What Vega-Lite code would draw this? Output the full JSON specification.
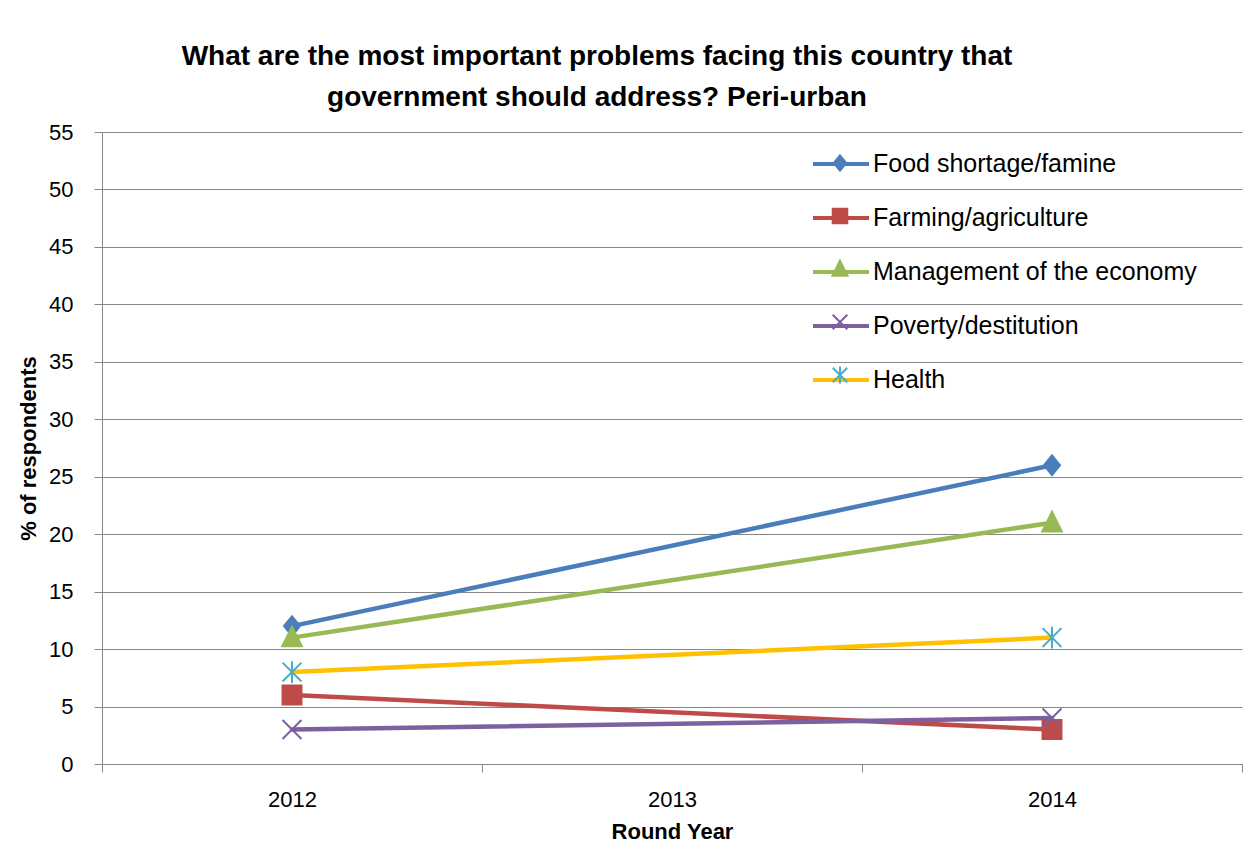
{
  "$schema": "https://vega.github.io/schema/vega-lite/v6.json",
  "width": 1140,
  "height": 632,
  "autosize": {"type": "none"},
  "padding": {"left": 102, "top": 132, "right": 11, "bottom": 80},
  "background": "white",
  "title": {
    "text": ["What are the most important problems facing this country that", "government should address? Peri-urban"],
    "font": "Liberation Sans",
    "fontSize": 28,
    "fontWeight": "bold",
    "color": "black",
    "anchor": "middle",
    "frame": "group",
    "dx": -75,
    "lineHeight": 41,
    "offset": 9
  },
  "config": {
    "view": {"stroke": null},
    "font": "Liberation Sans"
  },
  "data": {
    "values": [
      {"series": "Food shortage/famine", "year": "2012", "pct": 12},
      {"series": "Food shortage/famine", "year": "2014", "pct": 26},
      {"series": "Farming/agriculture", "year": "2012", "pct": 6},
      {"series": "Farming/agriculture", "year": "2014", "pct": 3},
      {"series": "Management of the economy", "year": "2012", "pct": 11},
      {"series": "Management of the economy", "year": "2014", "pct": 21},
      {"series": "Poverty/destitution", "year": "2012", "pct": 3},
      {"series": "Poverty/destitution", "year": "2014", "pct": 4},
      {"series": "Health", "year": "2012", "pct": 8},
      {"series": "Health", "year": "2014", "pct": 11}
    ]
  },
  "encoding": {
    "x": {
      "field": "year",
      "type": "nominal",
      "title": "Round Year",
      "scale": {"type": "band", "domain": ["2012", "2013", "2014"], "paddingInner": 0, "paddingOuter": 0},
      "axis": {
        "labelAngle": 0,
        "tickBand": "extent",
        "grid": false,
        "domainColor": "#868686",
        "tickColor": "#868686",
        "tickSize": 8,
        "labelFont": "Liberation Sans",
        "labelFontSize": 22,
        "labelColor": "black",
        "labelPadding": 17,
        "titleFont": "Liberation Sans",
        "titleFontSize": 22,
        "titleFontWeight": "bold",
        "titleColor": "black",
        "titlePadding": 11
      }
    },
    "y": {
      "field": "pct",
      "type": "quantitative",
      "title": "% of respondents",
      "scale": {"domain": [0, 55], "nice": false},
      "axis": {
        "values": [0, 5, 10, 15, 20, 25, 30, 35, 40, 45, 50, 55],
        "grid": true,
        "gridColor": "#868686",
        "domainColor": "#868686",
        "tickColor": "#868686",
        "tickSize": 8,
        "labelFlush": false,
        "labelFont": "Liberation Sans",
        "labelFontSize": 22,
        "labelColor": "black",
        "labelPadding": 21,
        "titleFont": "Liberation Sans",
        "titleFontSize": 22,
        "titleFontWeight": "bold",
        "titleColor": "black",
        "titlePadding": 8
      }
    }
  },
  "layer": [
    {
      "mark": {"type": "line", "strokeWidth": 4.5, "strokeCap": "round", "strokeJoin": "round"},
      "encoding": {
        "color": {
          "field": "series",
          "type": "nominal",
          "sort": ["Food shortage/famine", "Farming/agriculture", "Management of the economy", "Poverty/destitution", "Health"],
          "scale": {"range": ["#4A7EBB", "#BE4B48", "#98B954", "#7D60A0", "#FFC000"]},
          "legend": {
            "orient": "none",
            "legendX": 709,
            "legendY": 2,
            "title": null,
            "padding": 0,
            "symbolType": "stroke",
            "symbolSize": 3136,
            "symbolStrokeWidth": 4,
            "labelFont": "Liberation Sans",
            "labelFontSize": 25,
            "labelColor": "black",
            "labelLimit": 500,
            "labelOffset": 2,
            "rowPadding": 11
          }
        }
      }
    },
    {
      "mark": {"type": "point", "filled": true, "opacity": 1, "size": 5300, "strokeWidth": 2},
      "encoding": {
        "shape": {
          "field": "series",
          "type": "nominal",
          "scale": {
            "domain": ["Food shortage/famine", "Farming/agriculture", "Management of the economy", "Poverty/destitution", "Health"],
            "range": [
              "M0,-0.27L0.22,0L0,0.27L-0.22,0Z",
              "M-0.26,-0.26L0.26,-0.26L0.26,0.26L-0.26,0.26Z",
              "M0,-0.3L0.27,0.24L-0.27,0.24Z",
              "M-0.26,-0.26L0.26,0.26M-0.26,0.26L0.26,-0.26",
              "M-0.26,-0.26L0.26,0.26M-0.26,0.26L0.26,-0.26M0,-0.3L0,0.3"
            ]
          },
          "legend": {
            "orient": "none",
            "legendX": 709,
            "legendY": 2,
            "title": null,
            "padding": 0,
            "symbolSize": 3136,
            "symbolStrokeWidth": 2,
            "labelFont": "Liberation Sans",
            "labelFontSize": 25,
            "labelExpr": "' '",
            "labelLimit": 500,
            "labelOffset": -40,
            "rowPadding": 11
          }
        },
        "fill": {
          "field": "series",
          "type": "nominal",
          "scale": {
            "domain": ["Food shortage/famine", "Farming/agriculture", "Management of the economy", "Poverty/destitution", "Health"],
            "range": ["#4A7EBB", "#BE4B48", "#98B954", "#7D60A0", "#4BACC6"]
          },
          "legend": {
            "orient": "none",
            "legendX": 709,
            "legendY": 2,
            "title": null,
            "padding": 0,
            "symbolSize": 3136,
            "symbolStrokeWidth": 2,
            "labelFont": "Liberation Sans",
            "labelFontSize": 25,
            "labelExpr": "' '",
            "labelLimit": 500,
            "labelOffset": -40,
            "rowPadding": 11
          }
        },
        "stroke": {
          "field": "series",
          "type": "nominal",
          "scale": {
            "domain": ["Food shortage/famine", "Farming/agriculture", "Management of the economy", "Poverty/destitution", "Health"],
            "range": ["#4A7EBB", "#BE4B48", "#98B954", "#7D60A0", "#4BACC6"]
          },
          "legend": {
            "orient": "none",
            "legendX": 709,
            "legendY": 2,
            "title": null,
            "padding": 0,
            "symbolSize": 3136,
            "symbolStrokeWidth": 2,
            "labelFont": "Liberation Sans",
            "labelFontSize": 25,
            "labelExpr": "' '",
            "labelLimit": 500,
            "labelOffset": -40,
            "rowPadding": 11
          }
        }
      }
    }
  ]
}
